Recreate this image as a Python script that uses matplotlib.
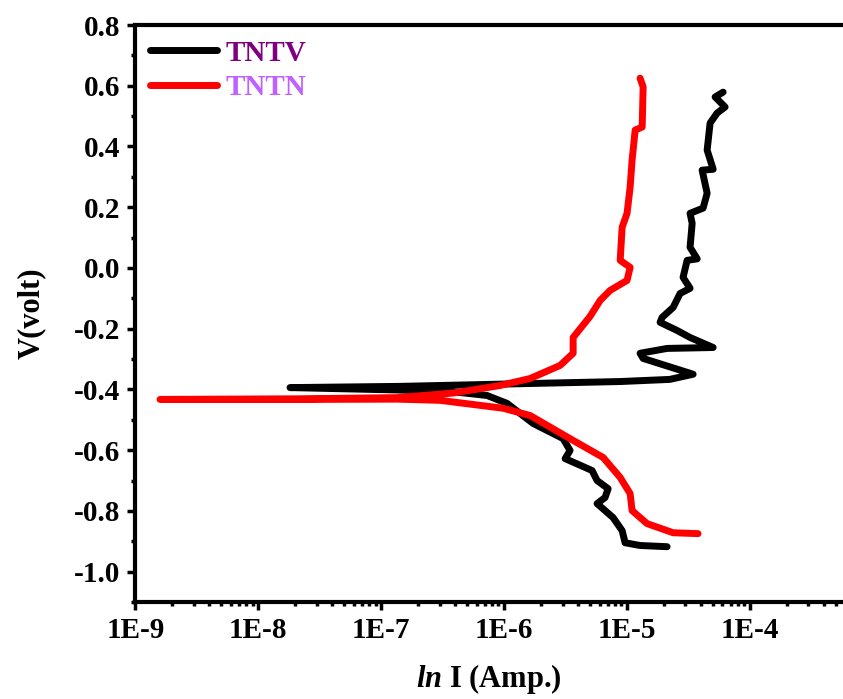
import numpy as np
import matplotlib
matplotlib.use('Agg')
import matplotlib.pyplot as plt
from matplotlib.ticker import FixedLocator, FuncFormatter, LogLocator, NullFormatter

plt.rcParams['font.family'] = 'Liberation Serif'
plt.rcParams['font.weight'] = 'bold'
plt.rcParams['mathtext.fontset'] = 'custom'
plt.rcParams['mathtext.it'] = 'Liberation Serif:italic:bold'
plt.rcParams['mathtext.rm'] = 'Liberation Serif:bold'

# TNTV (black): log10 of current and potential, cathodic end -> Ecorr -> anodic end
tntv_logi = [-4.672, -4.892, -5.014, -5.038, -5.112, -5.242, -5.177, -5.152, -5.242,
             -5.283, -5.502, -5.462, -5.519, -5.763, -5.975, -6.138, -6.36, -6.85,
             -7.742, -6.85, -5.73, -5.05, -4.65, -4.46, -4.867, -4.892, -4.672,
             -4.297, -4.485, -4.590, -4.729, -4.713, -4.623, -4.566, -4.485, -4.542,
             -4.509, -4.427, -4.485, -4.468, -4.485, -4.379, -4.346, -4.387, -4.297,
             -4.346, -4.322, -4.265, -4.200, -4.281, -4.216]
tntv_v = [-0.918, -0.914, -0.905, -0.865, -0.822, -0.776, -0.756, -0.727, -0.700,
          -0.667, -0.628, -0.601, -0.562, -0.512, -0.446, -0.420, -0.410, -0.402,
          -0.394, -0.390, -0.380, -0.374, -0.367, -0.350, -0.298, -0.281, -0.265,
          -0.262, -0.229, -0.206, -0.179, -0.163, -0.130, -0.084, -0.067, -0.031,
          0.025, 0.030, 0.068, 0.147, 0.180, 0.197, 0.246, 0.322, 0.325,
          0.388, 0.477, 0.510, 0.530, 0.563, 0.579]

# TNTN (red)
tntn_logi = [-4.420, -4.623, -4.835, -4.957, -4.973, -5.054, -5.193, -5.437, -5.787,
             -6.007, -6.52, -6.87, -7.66, -8.80, -7.66, -6.87, -6.414, -6.03,
             -5.787, -5.543, -5.437, -5.437, -5.30, -5.217, -5.136, -4.998, -4.973,
             -5.054, -5.038, -4.998, -4.973, -4.957, -4.932, -4.875, -4.867, -4.892]
tntn_v = [-0.875, -0.872, -0.842, -0.799, -0.743, -0.690, -0.624, -0.568, -0.486,
          -0.462, -0.436, -0.432, -0.433, -0.433, -0.431, -0.427, -0.412, -0.387,
          -0.364, -0.321, -0.281, -0.229, -0.160, -0.107, -0.074, -0.041, 0.002,
          0.025, 0.134, 0.180, 0.266, 0.355, 0.454, 0.464, 0.596, 0.625]

fig = plt.figure(figsize=(8.43, 6.99), dpi=100)
ax = fig.add_axes([0.1607, 0.1388, 0.8393, 0.8254])

ax.plot(10 ** np.array(tntv_logi), tntv_v, color='black', lw=5, solid_capstyle='round',
        solid_joinstyle='round', label='TNTV')
ax.plot(10 ** np.array(tntn_logi), tntn_v, color='red', lw=5, solid_capstyle='round',
        solid_joinstyle='round', label='TNTN')

ax.set_xscale('log')
ax.set_xlim(1e-9, 10 ** -3.24)
ax.set_ylim(-1.1, 0.8)

ax.xaxis.set_major_locator(FixedLocator([1e-9, 1e-8, 1e-7, 1e-6, 1e-5, 1e-4]))
ax.xaxis.set_major_formatter(FuncFormatter(lambda v, p: '1E%d' % int(round(np.log10(v)))))
ax.xaxis.set_minor_locator(LogLocator(base=10, subs=np.arange(2, 10), numticks=20))
ax.xaxis.set_minor_formatter(NullFormatter())

yt = [-1.0, -0.8, -0.6, -0.4, -0.2, 0.0, 0.2, 0.4, 0.6, 0.8]
ax.yaxis.set_major_locator(FixedLocator(yt))
ax.yaxis.set_major_formatter(FuncFormatter(lambda v, p: '%.1f' % (v + 0.0) if abs(v) > 1e-9 else '0.0'))
ax.yaxis.set_minor_locator(FixedLocator([-1.1, -0.9, -0.7, -0.5, -0.3, -0.1, 0.1, 0.3, 0.5, 0.7]))

for s in ['left', 'bottom', 'top']:
    ax.spines[s].set_linewidth(3)
ax.spines['right'].set_visible(False)
ax.tick_params(which='major', direction='out', length=6, width=2.5, labelsize=21, pad=5)
ax.tick_params(which='minor', direction='out', length=3, width=2.5)
ax.tick_params(top=False, right=False, which='both')

ax.set_xlabel(r'$ln$ I (Amp.)', fontsize=22, fontweight='bold', labelpad=13)
ax.set_ylabel('V(volt)', fontsize=22, fontweight='bold', labelpad=20)

leg = ax.legend(loc='upper left', frameon=False, fontsize=21, handlelength=2.3,
                handletextpad=0.3, borderaxespad=0.3, borderpad=0.2, labelspacing=0.25,
                bbox_to_anchor=(0.0, 1.0))
leg.get_texts()[0].set_color('#7f007f')
leg.get_texts()[1].set_color('#c060ff')

fig.savefig('out.png', dpi=100)
